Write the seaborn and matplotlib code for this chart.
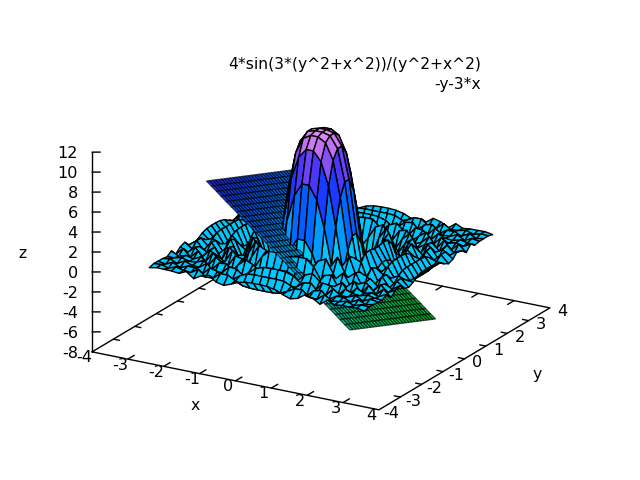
import matplotlib
matplotlib.use('Agg')
import matplotlib.pyplot as plt
import numpy as np
import seaborn as sns
from matplotlib.colors import Normalize
from mpl_toolkits.mplot3d.art3d import Poly3DCollection

# sample positions of the first surface, positive half only (it mirrors around 0)
surf_half = [0.10, 0.31, 0.52, 0.72, 0.93, 1.14, 1.34, 1.55, 1.76, 1.97, 2.17, 2.38, 2.59, 2.79, 3.00]

# heights read for one quadrant, upper triangle, row by row
surf_rows = [
    [11.99, 11.79, 10.66, 7.47, 2.22, -2.14, -1.62, 1.37, 0.15, -0.84, 0.84, -0.68, 0.57, -0.51, 0.42],
    [11.34, 9.75, 6.17, 1.04, -2.47, -1.13, 1.50, -0.18, -0.64, 0.79, -0.69, 0.59, -0.50, 0.37],
    [7.47, 3.50, -0.91, -2.56, -0.11, 1.47, -0.73, -0.17, 0.54, -0.59, 0.52, -0.40, 0.20],
    [-0.02, -2.47, -1.62, 1.12, 0.80, -1.09, 0.51, -0.02, -0.19, 0.19, -0.07, -0.12],
    [-2.04, 0.37, 1.47, -0.47, -0.64, 0.84, -0.62, 0.41, -0.33, 0.35, -0.39],
    [1.54, 0.15, -1.07, 0.51, 0.18, -0.48, 0.52, -0.46, 0.37, -0.20],
    [-1.09, 0.08, 0.69, -0.68, 0.41, -0.22, 0.17, -0.22, 0.31],
    [0.79, -0.52, -0.02, 0.32, -0.40, 0.37, -0.28, 0.12],
    [-0.19, 0.52, -0.51, 0.41, -0.36, 0.35, -0.33],
    [-0.48, 0.27, -0.12, 0.09, -0.14, 0.24],
    [-0.02, -0.10, 0.12, -0.04, -0.09],
    [0.20, -0.20, 0.13, 0.00],
    [0.19, -0.14, 0.01],
    [0.08, 0.03],
    [-0.12],
]

# the plane: sample positions and what each one adds to the height
plane_pos = [-2.00, -1.86, -1.72, -1.59, -1.45, -1.31, -1.17, -1.03, -0.90, -0.76,
             -0.62, -0.48, -0.34, -0.21, -0.07, 0.07, 0.21, 0.34, 0.48, 0.62,
             0.76, 0.90, 1.03, 1.17, 1.31, 1.45, 1.59, 1.72, 1.86, 2.00]
plane_from_x = [6.00, 5.59, 5.17, 4.76, 4.34, 3.93, 3.52, 3.10, 2.69, 2.28,
                1.86, 1.45, 1.03, 0.62, 0.21, -0.21, -0.62, -1.03, -1.45, -1.86,
                -2.28, -2.69, -3.10, -3.52, -3.93, -4.34, -4.76, -5.17, -5.59, -6.00]
plane_from_y = [2.00, 1.86, 1.72, 1.59, 1.45, 1.31, 1.17, 1.03, 0.90, 0.76,
                0.62, 0.48, 0.34, 0.21, 0.07, -0.07, -0.21, -0.34, -0.48, -0.62,
                -0.76, -0.90, -1.03, -1.17, -1.31, -1.45, -1.59, -1.72, -1.86, -2.00]

x_ticks = [-4, -3, -2, -1, 0, 1, 2, 3, 4]
y_ticks = [-4, -3, -2, -1, 0, 1, 2, 3, 4]
z_ticks = [-8, -6, -4, -2, 0, 2, 4, 6, 8, 10, 12]
title_lines = ['4*sin(3*(y^2+x^2))/(y^2+x^2)', '-y-3*x']

# colours from z=-8 up to z=12 in steps of 2
z_colors = ['#00c828', '#00d246', '#00d278', '#00c8be', '#00c8ff', '#00a5ff',
            '#006eff', '#0f46ff', '#2d28ff', '#a05af5', '#e68cf0']

sns.set_style('white')
plt.rcParams['font.family'] = 'DejaVu Sans'
plt.rcParams['axes.unicode_minus'] = False
plt.rcParams['text.color'] = 'black'
plt.rcParams['xtick.color'] = 'black'
plt.rcParams['ytick.color'] = 'black'
plt.rcParams['axes.labelcolor'] = 'black'


def cells(xs, ys, zs):
    # one quad per grid cell
    quads = []
    means = []
    for i in range(len(xs) - 1):
        for j in range(len(ys) - 1):
            idx = [(i, j), (i + 1, j), (i + 1, j + 1), (i, j + 1)]
            quads.append([(xs[a], ys[b], zs[a, b]) for a, b in idx])
            means.append(np.mean([zs[a, b] for a, b in idx]))
    return quads, means


quad = np.zeros((15, 15))
for i, row in enumerate(surf_rows):
    quad[i, i:] = row
    quad[i:, i] = row
top = np.hstack([quad[::-1, ::-1], quad[::-1, :]])
bottom = np.hstack([quad[:, ::-1], quad])
surf_z = np.vstack([top, bottom])
half = np.array(surf_half)
surf_xy = np.concatenate([-half[::-1], half])

plane_z = np.add.outer(np.array(plane_from_x), np.array(plane_from_y))

q1, m1 = cells(surf_xy, surf_xy, surf_z)
q2, m2 = cells(plane_pos, plane_pos, plane_z)

cmap = sns.blend_palette(z_colors, as_cmap=True)
norm = Normalize(-8, 12)

# plane mesh is so dense that full black lines swallow its colour
edges = [(0, 0, 0, 1.0)] * len(q1) + [(0, 0, 0, 0.65)] * len(q2)

fig = plt.figure(figsize=(6.4, 4.8), dpi=100)
ax = fig.add_axes([74.5 / 640, 3.5 / 480, 480 / 640, 1.0], projection='3d', proj_type='ortho')
ax.patch.set_alpha(0)
ax.view_init(elev=20.3, azim=-59.8)
ax.set_box_aspect((332, 340, 213), zoom=1.053)
ax.set_xlim(-4, 4, view_margin=0)
ax.set_ylim(-4, 4, view_margin=0)
ax.set_zlim(-8, 12, view_margin=0)
ax.computed_zorder = False
ax.grid(False)

poly = Poly3DCollection(q1 + q2, facecolors=cmap(norm(m1 + m2)), edgecolors=edges,
                        linewidths=1.0, zsort='average', zorder=3)
ax.add_collection3d(poly)

# keep the axes' own labels, ticks are drawn below so they can mirror
ax.set_xticks(x_ticks)
ax.set_yticks(y_ticks)
ax.set_zticks(z_ticks)
ax.zaxis.set_ticks_position('lower')
for axis in (ax.xaxis, ax.yaxis, ax.zaxis):
    axis.set_pane_color((1, 1, 1, 0))
    axis.pane.set_edgecolor((1, 1, 1, 0))
    axis.line.set_visible(False)
    axis._axinfo['tick']['inward_factor'] = 0
    axis._axinfo['tick']['outward_factor'] = 0
ax.tick_params(labelsize=11.6, pad=0, colors='black')
ax.tick_params(axis='z', pad=-2.4)
plt.setp(ax.get_xticklabels(), va='bottom')
plt.setp(ax.get_yticklabels(), va='bottom')
plt.setp(ax.get_zticklabels(), va='center', ha='right')

line = dict(color='black', lw=1.0, zorder=1)
ax.plot([-4, 4, 4, -4, -4], [-4, -4, 4, 4, -4], [-8, -8, -8, -8, -8], **line)
ax.plot([-4, -4], [-4, -4], [-8, 12], **line)
for t in x_ticks[1:-1]:
    ax.plot([t, t], [-4, -3.7], [-8, -8], **line)
    ax.plot([t, t], [4, 3.7], [-8, -8], **line)
for t in y_ticks[1:-1]:
    ax.plot([4, 3.83], [t, t], [-8, -8], **line)
    ax.plot([-4, -3.83], [t, t], [-8, -8], **line)
for t in z_ticks[1:]:
    ax.plot([-4, -3.83], [-4, -3.9], [t, t], **line)

fig.text(481 / 640, 1 - 64 / 480, title_lines[0], ha='right', va='center', fontsize=11.15)
fig.text(481 / 640, 1 - 84 / 480, title_lines[1], ha='right', va='center', fontsize=11.15)
fig.text(195 / 640, 1 - 405 / 480, 'x', ha='center', va='center', fontsize=11.3)
fig.text(537 / 640, 1 - 375 / 480, 'y', ha='center', va='center', fontsize=11.3)
fig.text(22 / 640, 1 - 253 / 480, 'z', ha='center', va='center', fontsize=11.3)

fig.savefig('out.png', dpi=100)
